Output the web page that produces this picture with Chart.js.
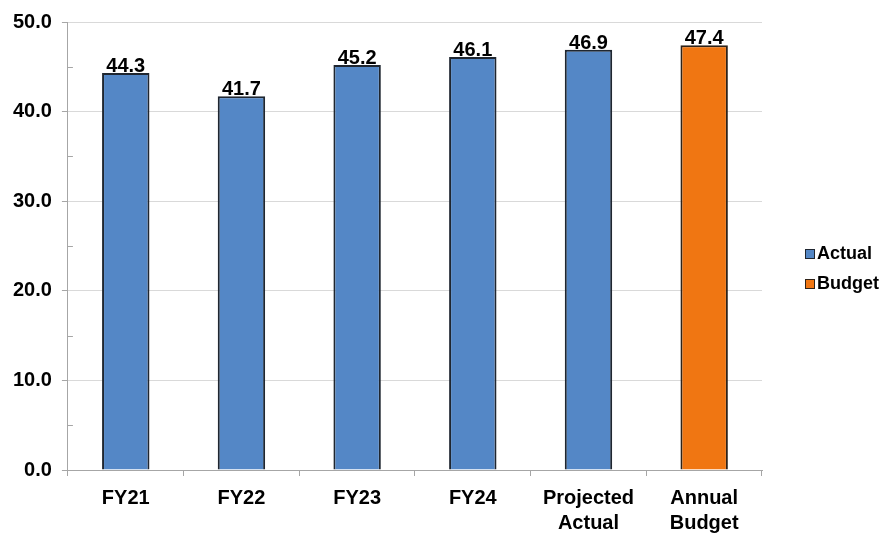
<!DOCTYPE html>
<html lang="en">
<head>
    <meta charset="UTF-8">
    <title>Actual vs Budget</title>
    <script src="https://cdn.jsdelivr.net/npm/chart.js"></script>
    <style>
        html, body { margin: 0; padding: 0; background: #fff; }
        #wrap { width: 888px; height: 537px; }
    </style>
</head>
<body>
    <div id="wrap"><canvas id="myChart"></canvas></div>
    <script>
        const categories = ['FY21', 'FY22', 'FY23', 'FY24', ['Projected', 'Actual'], ['Annual', 'Budget']];
        const actualValues = [44.3, 41.7, 45.2, 46.1, 46.9, null];
        const budgetValues = [null, null, null, null, null, 47.4];
        const yTicks = [0, 10, 20, 30, 40, 50];

        const font = "'Liberation Sans', Arial, sans-serif";

        // Value labels sitting on top of each bar
        const valueLabels = {
            id: 'valueLabels',
            afterDatasetsDraw(chart) {
                const c = chart.ctx;
                c.save();
                c.font = 'bold 20px ' + font;
                c.fillStyle = '#000';
                c.textAlign = 'center';
                c.textBaseline = 'alphabetic';
                chart.data.datasets.forEach((ds, i) => {
                    chart.getDatasetMeta(i).data.forEach((bar, j) => {
                        if (ds.data[j] == null) return;
                        c.fillText(ds.data[j].toFixed(1), bar.x, bar.y - 1);
                    });
                });
                c.restore();
            }
        };

        // Small inside ticks halfway between the labelled ones
        const minorTicks = {
            id: 'minorTicks',
            afterDraw(chart) {
                const y = chart.scales.y;
                const c = chart.ctx;
                c.save();
                c.strokeStyle = '#a6a6a6';
                c.lineWidth = 1;
                for (let i = 0; i < yTicks.length - 1; i++) {
                    const py = Math.round(y.getPixelForValue((yTicks[i] + yTicks[i + 1]) / 2)) + 0.5;
                    c.beginPath();
                    c.moveTo(y.right, py);
                    c.lineTo(y.right + 5, py);
                    c.stroke();
                }
                c.restore();
            }
        };

        // Legend to the right of the plot, square swatches with a dark edge
        const sideLegend = {
            id: 'sideLegend',
            afterDraw(chart) {
                const c = chart.ctx;
                const area = chart.chartArea;
                const x = area.right + 43;
                let y = 249;
                c.save();
                c.font = 'bold 18px ' + font;
                c.textBaseline = 'middle';
                c.textAlign = 'left';
                chart.data.datasets.forEach(ds => {
                    c.fillStyle = ds.backgroundColor;
                    c.fillRect(x, y, 10, 10);
                    c.strokeStyle = ds.borderColor;
                    c.lineWidth = 1;
                    c.strokeRect(x + 0.5, y + 0.5, 9, 9);
                    c.fillStyle = '#000';
                    c.fillText(ds.label, x + 12, y + 5);
                    y += 30;
                });
                c.restore();
            }
        };

        const ctx = document.getElementById('myChart').getContext('2d');
        const myChart = new Chart(ctx, {
            type: 'bar',
            data: {
                labels: categories,
                datasets: [{
                    label: 'Actual',
                    data: actualValues,
                    backgroundColor: '#5487c6',
                    borderColor: '#1f2630',
                    borderWidth: 2,
                    grouped: false
                }, {
                    label: 'Budget',
                    data: budgetValues,
                    backgroundColor: '#f07612',
                    borderColor: '#2e2218',
                    borderWidth: 2,
                    grouped: false
                }]
            },
            options: {
                responsive: true,
                maintainAspectRatio: false,
                animation: false,
                layout: { padding: { top: 8, left: 3, right: 126, bottom: 0 } },
                datasets: {
                    bar: { categoryPercentage: 1, barPercentage: 0.41 }
                },
                scales: {
                    x: {
                        afterFit(axis) {
                            axis.height = 67;
                        },
                        grid: {
                            drawOnChartArea: false,
                            color: '#a6a6a6',
                            tickLength: 6
                        },
                        border: { color: '#a6a6a6' },
                        ticks: {
                            color: '#000',
                            font: { family: font, size: 20, weight: 'bold', lineHeight: 1.25 },
                            padding: 10,
                            maxRotation: 0
                        }
                    },
                    y: {
                        min: 0,
                        max: 50,
                        afterBuildTicks(axis) {
                            axis.ticks = yTicks.map(v => ({ value: v }));
                        },
                        grid: {
                            color: '#d9d9d9',
                            tickColor: '#a6a6a6',
                            tickLength: 6
                        },
                        border: { color: '#a6a6a6' },
                        ticks: {
                            color: '#000',
                            font: { family: font, size: 20, weight: 'bold' },
                            padding: 10,
                            callback: v => v.toFixed(1)
                        }
                    }
                },
                plugins: {
                    legend: { display: false },
                    tooltip: { enabled: false }
                }
            },
            plugins: [valueLabels, minorTicks, sideLegend]
        });
    </script>
</body>
</html>
